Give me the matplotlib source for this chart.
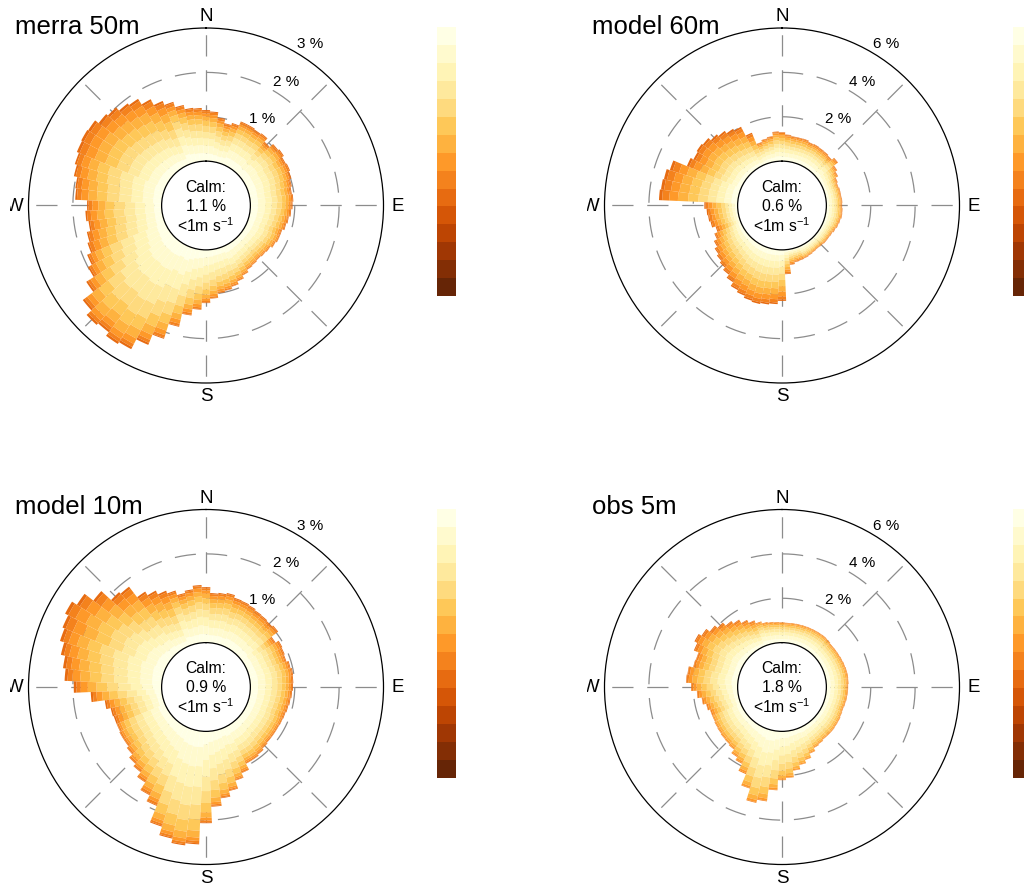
import numpy as np
import matplotlib
matplotlib.use('Agg')
import matplotlib.pyplot as plt
from matplotlib.colors import BoundaryNorm
import matplotlib.colorbar as mcolorbar

plt.rcParams['font.family'] = ['Liberation Sans', 'DejaVu Sans']
plt.rcParams['mathtext.default'] = 'regular'

# ---------------- data ----------------
directions = list(range(0, 360, 5))          # bin centres, degrees
sector_names = ['N', 'NE', 'E', 'SE', 'S', 'SW', 'W', 'NW']
titles = ['merra 50m', 'model 60m', 'model 10m', 'obs 5m']
calm_values = [1.1, 0.6, 0.9, 1.8]
ring_steps = [1, 2, 1, 2]
axis_max = [3, 6, 3, 6]

# total frequency (%) per 5-degree direction bin
merra50_total = [1.15, 1.12, 1.00, 0.90, 0.95, 1.05, 1.05, 1.03, 1.05, 0.95, 1.05, 1.08,
                 1.03, 1.05, 1.02, 0.98, 0.95, 0.97, 0.95, 0.92, 0.88, 0.85, 0.80, 0.80,
                 0.77, 0.72, 0.70, 0.68, 0.70, 0.72, 0.78, 0.85, 0.92, 0.97, 1.00, 1.10,
                 1.20, 1.35, 1.50, 1.80, 2.15, 2.40, 2.65, 2.70, 2.60, 2.65, 2.50, 2.20,
                 2.00, 1.90, 1.80, 1.75, 1.67, 1.72, 1.68, 1.95, 1.97, 2.05, 2.10, 2.15,
                 2.17, 2.15, 2.05, 2.00, 1.90, 1.85, 1.70, 1.55, 1.45, 1.32, 1.22, 1.20]
model60_total = [1.30, 1.20, 1.15, 1.15, 1.16, 1.10, 1.12, 1.10, 1.09, 1.05, 1.18, 0.95,
                 0.85, 0.72, 0.67, 0.70, 0.70, 0.72, 0.71, 0.73, 0.74, 0.70, 0.67, 0.62,
                 0.57, 0.55, 0.55, 0.52, 0.50, 0.52, 0.55, 0.58, 0.60, 0.62, 0.70, 1.10,
                 2.30, 2.45, 2.50, 2.55, 2.50, 2.40, 2.30, 2.10, 1.93, 1.80, 1.70, 1.60,
                 1.46, 1.30, 1.14, 1.30, 1.36, 1.40, 1.50, 3.55, 3.50, 3.45, 3.30, 2.64,
                 2.50, 2.56, 2.50, 2.35, 2.24, 2.10, 2.00, 1.55, 1.00, 1.09, 1.15, 1.34]
model10_total = [1.25, 1.12, 1.14, 1.17, 1.11, 1.10, 1.08, 1.05, 1.04, 1.02, 1.05, 0.86,
                 0.94, 0.92, 0.90, 0.95, 0.98, 0.97, 0.96, 0.94, 0.92, 0.90, 0.88, 0.87,
                 0.86, 0.86, 0.86, 0.88, 0.92, 0.95, 0.95, 1.10, 1.21, 1.40, 1.53, 1.70,
                 2.07, 2.55, 2.60, 2.50, 2.30, 1.90, 1.75, 1.55, 1.42, 1.35, 1.25, 1.20,
                 1.20, 1.18, 1.18, 1.20, 1.30, 1.60, 1.98, 2.19, 2.25, 2.35, 2.45, 2.50,
                 2.58, 2.45, 2.20, 1.90, 1.85, 1.55, 1.45, 1.35, 1.28, 1.17, 1.22, 1.30]
obs5_total = [0.91, 0.90, 0.91, 0.92, 0.93, 0.94, 0.95, 0.96, 0.97, 0.95, 0.92, 0.93,
              0.94, 0.96, 0.98, 1.00, 1.01, 1.00, 0.98, 0.97, 0.96, 0.94, 0.92, 0.94,
              0.97, 0.98, 1.00, 1.00, 1.00, 1.05, 1.10, 1.25, 1.45, 1.60, 1.80, 2.10,
              2.20, 2.66, 3.20, 3.35, 2.80, 2.25, 1.90, 1.75, 1.55, 1.50, 1.48, 1.45,
              1.43, 1.40, 1.40, 1.50, 1.65, 1.84, 2.10, 2.33, 2.30, 2.10, 2.07, 2.30,
              2.45, 2.30, 2.10, 1.94, 1.75, 1.60, 1.41, 1.25, 1.10, 1.00, 0.96, 0.93]

# share of each wind-speed bin (lightest -> darker) per compass sector
merra50_share = [[0.15, 0.15, 0.14, 0.13, 0.12, 0.10, 0.08, 0.06, 0.05, 0.02],
                 [0.17, 0.17, 0.15, 0.13, 0.11, 0.09, 0.07, 0.05, 0.04, 0.02],
                 [0.18, 0.17, 0.15, 0.13, 0.11, 0.09, 0.07, 0.05, 0.03, 0.02],
                 [0.18, 0.18, 0.16, 0.13, 0.11, 0.09, 0.07, 0.04, 0.03, 0.01],
                 [0.14, 0.16, 0.16, 0.15, 0.13, 0.10, 0.07, 0.05, 0.03, 0.01],
                 [0.11, 0.14, 0.16, 0.16, 0.14, 0.11, 0.08, 0.05, 0.03, 0.02],
                 [0.10, 0.12, 0.13, 0.14, 0.14, 0.12, 0.10, 0.08, 0.05, 0.02],
                 [0.09, 0.10, 0.11, 0.12, 0.13, 0.13, 0.12, 0.10, 0.07, 0.03]]
model60_share = [[0.16, 0.15, 0.14, 0.13, 0.12, 0.10, 0.08, 0.06, 0.04, 0.02],
                 [0.17, 0.16, 0.15, 0.13, 0.11, 0.09, 0.07, 0.06, 0.04, 0.02],
                 [0.18, 0.17, 0.15, 0.13, 0.11, 0.09, 0.07, 0.05, 0.03, 0.02],
                 [0.16, 0.16, 0.15, 0.13, 0.11, 0.09, 0.08, 0.06, 0.04, 0.02],
                 [0.10, 0.11, 0.12, 0.13, 0.13, 0.12, 0.11, 0.09, 0.06, 0.03],
                 [0.10, 0.11, 0.12, 0.12, 0.13, 0.12, 0.11, 0.10, 0.06, 0.03],
                 [0.08, 0.09, 0.10, 0.11, 0.12, 0.13, 0.13, 0.11, 0.09, 0.04],
                 [0.08, 0.09, 0.10, 0.11, 0.12, 0.13, 0.13, 0.12, 0.08, 0.04]]
model10_share = [[0.15, 0.15, 0.15, 0.13, 0.12, 0.10, 0.08, 0.06, 0.04, 0.02],
                 [0.17, 0.16, 0.15, 0.13, 0.11, 0.09, 0.07, 0.06, 0.04, 0.02],
                 [0.18, 0.17, 0.15, 0.13, 0.11, 0.09, 0.07, 0.05, 0.03, 0.02],
                 [0.18, 0.18, 0.16, 0.14, 0.11, 0.09, 0.06, 0.04, 0.03, 0.01],
                 [0.14, 0.17, 0.18, 0.16, 0.13, 0.10, 0.06, 0.03, 0.02, 0.01],
                 [0.14, 0.16, 0.17, 0.15, 0.13, 0.10, 0.07, 0.04, 0.03, 0.01],
                 [0.10, 0.12, 0.13, 0.14, 0.13, 0.12, 0.10, 0.08, 0.05, 0.03],
                 [0.09, 0.10, 0.11, 0.12, 0.13, 0.13, 0.12, 0.10, 0.07, 0.03]]
obs5_share = [[0.18, 0.18, 0.16, 0.13, 0.11, 0.09, 0.07, 0.05, 0.03, 0.00],
              [0.19, 0.18, 0.16, 0.14, 0.11, 0.09, 0.06, 0.04, 0.03, 0.00],
              [0.19, 0.18, 0.16, 0.14, 0.11, 0.09, 0.06, 0.04, 0.03, 0.00],
              [0.18, 0.18, 0.17, 0.14, 0.12, 0.09, 0.06, 0.04, 0.02, 0.00],
              [0.14, 0.17, 0.18, 0.17, 0.14, 0.10, 0.06, 0.03, 0.01, 0.00],
              [0.15, 0.17, 0.17, 0.15, 0.13, 0.10, 0.07, 0.04, 0.02, 0.00],
              [0.12, 0.13, 0.14, 0.14, 0.13, 0.12, 0.10, 0.07, 0.04, 0.01],
              [0.11, 0.12, 0.13, 0.13, 0.13, 0.12, 0.11, 0.08, 0.05, 0.02]]

totals = [merra50_total, model60_total, model10_total, obs5_total]
shares = [merra50_share, model60_share, model10_share, obs5_share]

# ---------------- layout (pixels) ----------------
W, H = 1024, 888
R = 177.5
centers = [(206, 205.5), (782, 205.5), (206, 687), (782, 687)]
title_pos = [(15, 27), (592, 27), (15, 507), (592, 507)]
clip_left = [10, 587, 10, 587]
cbar_x = [437, 1013, 437, 1013]
cbar_y = [(27.5, 296), (27.5, 296), (509, 777.5), (509, 777.5)]

n_levels = 15
cmap = plt.get_cmap('YlOrBr', n_levels)
grid_col = '#8c8c8c'

fig = plt.figure(figsize=(W / 100, H / 100), dpi=100)
fig.patch.set_facecolor('white')

def fx(px):
    return px / W

def fy(py):
    return 1 - py / H

for k in range(4):
    cx, cy = centers[k]
    rmax = axis_max[k]
    step = ring_steps[k]
    ax = fig.add_axes([fx(cx - R), fy(cy + R), 2 * R / W, 2 * R / H], projection='polar')
    ax.set_theta_zero_location('N')
    ax.set_theta_direction(-1)
    ax.set_ylim(0, rmax)
    ax.set_rorigin(-rmax / 3)
    ax.grid(False)
    ax.set_xticks([])
    ax.set_yticks([])
    for sp in ['polar', 'inner']:
        ax.spines[sp].set_color('black')
        ax.spines[sp].set_linewidth(0.9)

    # grid
    th = np.linspace(0, 2 * np.pi, 400)
    for rr in np.arange(step, rmax, step):
        ax.plot(th, np.full_like(th, rr), color=grid_col, lw=0.9, dashes=(17, 11), zorder=1)
    for a in range(0, 360, 45):
        ax.plot([np.deg2rad(a)] * 2, [0, rmax], color=grid_col, lw=0.9, dashes=(17, 11), zorder=1)

    # stacked bars
    tot = np.array(totals[k])
    sh = np.array(shares[k])
    theta = np.deg2rad(directions)
    sect = [int(round(d / 45.0)) % 8 for d in directions]
    freq = tot[:, None] * sh[sect] / sh[sect].sum(axis=1, keepdims=True)
    bottom = np.zeros(len(directions))
    for b in range(freq.shape[1]):
        ax.bar(theta, freq[:, b], width=np.deg2rad(5), bottom=bottom,
               color=cmap(b), edgecolor='none', linewidth=0, zorder=2, align='center')
        bottom = bottom + freq[:, b]

    # calm text
    fig.text(fx(cx), fy(cy - 18.5), 'Calm:', ha='center', va='center', fontsize=11.3)
    fig.text(fx(cx), fy(cy + 1), f'{calm_values[k]} %', ha='center', va='center', fontsize=11.3)
    fig.text(fx(cx), fy(cy + 20), '<1m s$^{-1}$', ha='center', va='center', fontsize=11.3)

    # ring labels
    ang = np.deg2rad(33)
    for rr in np.arange(step, rmax + step / 2, step):
        rpx = R / 4 * (1 + rr / step)
        d = rpx + 14.5
        fig.text(fx(cx + d * np.sin(ang)), fy(cy - d * np.cos(ang)), f'{int(rr)} %',
                 ha='center', va='center', fontsize=11)

    # compass labels
    fig.text(fx(cx), fy(cy - 189), 'N', ha='center', va='center', fontsize=13.5)
    fig.text(fx(cx + 191.5), fy(cy + 1), 'E', ha='center', va='center', fontsize=13.5)
    fig.text(fx(cx), fy(cy + 191), 'S', ha='center', va='center', fontsize=13.5)
    ov = fig.add_axes([fx(clip_left[k]), fy(cy + 240), 470 / W, 480 / H])
    ov.axis('off')
    ov.text(fx(cx - 191.5), fy(cy + 1), 'W', ha='center', va='center', fontsize=13.5,
            transform=fig.transFigure, clip_on=True)

    # title
    fig.text(fx(title_pos[k][0]), fy(title_pos[k][1]), titles[k], ha='left', va='center',
             fontsize=18.5)

    # colour key
    y0, y1 = cbar_y[k]
    cax = fig.add_axes([fx(cbar_x[k]), fy(y1), 19 / W, (y1 - y0) / H])
    cb = mcolorbar.ColorbarBase(cax, cmap=cmap, norm=BoundaryNorm(np.arange(n_levels + 1), n_levels),
                                orientation='vertical')
    cax.invert_yaxis()
    cb.outline.set_visible(False)
    cax.minorticks_off()
    cax.set_xticks([])
    cax.set_yticks([])
    cax.tick_params(which='both', length=0, labelleft=False, labelright=False)

fig.savefig('out.png', dpi=100, facecolor='white')
